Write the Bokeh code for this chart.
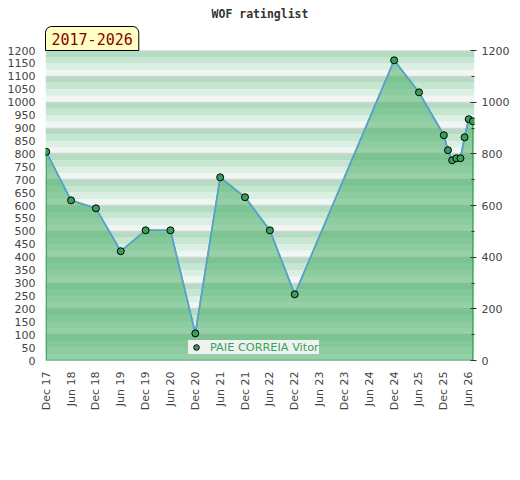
from bokeh.plotting import figure
from bokeh.models import (Range1d, LinearAxis, SingleIntervalTicker, FixedTicker,
                          Title, Legend, LegendItem)
from bokeh.embed import file_html
from bokeh.resources import INLINE

# ---- data ----
title_text = "WOF ratinglist"
period_text = "2017-2026"
player = "PAIE CORREIA Vitor"
dates = ["2017-12", "2018-06", "2018-12", "2019-06", "2019-12", "2020-06", "2020-12",
         "2021-06", "2021-12", "2022-06", "2022-12", "2024-12", "2025-06", "2025-12",
         "2026-01", "2026-02", "2026-03", "2026-04", "2026-05", "2026-06", "2026-07"]
ratings = [808, 620, 589, 423, 504, 504, 105, 709, 632, 504, 256, 1162, 1038, 872,
           814, 775, 783, 783, 864, 934, 926]
tick_labels = ["Dec 17", "Jun 18", "Dec 18", "Jun 19", "Dec 19", "Jun 20", "Dec 20",
               "Jun 21", "Dec 21", "Jun 22", "Dec 22", "Jun 23", "Dec 23", "Jun 24",
               "Dec 24", "Jun 25", "Dec 25", "Jun 26"]

MONTHS = {"Jan": 1, "Feb": 2, "Mar": 3, "Apr": 4, "May": 5, "Jun": 6, "Jul": 7,
          "Aug": 8, "Sep": 9, "Oct": 10, "Nov": 11, "Dec": 12}


def month_index(year, month):
    return (year - 2017) * 12 + month - 12


xs = [month_index(int(d[:4]), int(d[5:])) for d in dates]
tick_pos = [month_index(2000 + int(t[4:]), MONTHS[t[:3]]) for t in tick_labels]

FONT = "DejaVu Sans"

p = figure(frame_width=429, frame_height=310, width=505, height=452,
           output_backend="svg", toolbar_location=None,
           x_range=Range1d(-0.17, 103.4), y_range=Range1d(0, 1200),
           min_border_left=45, min_border_right=38, min_border_top=0, min_border_bottom=0,
           y_axis_location=None, x_axis_location=None)
p.outline_line_color = None
p.xgrid.visible = False
p.ygrid.visible = False
p.background_fill_color = "white"

# main title (outermost) and period box (nearest to frame)
p.title.text = title_text
p.title.align = "center"
p.title.text_font = "DejaVu Sans Mono"
p.title.text_font_style = "bold"
p.title.text_font_size = "11.5px"
p.title.text_color = "#333333"
p.title.standoff = 8

p.add_layout(Title(text=period_text, align="left", text_font="DejaVu Sans Mono",
                   text_font_style="normal", text_font_size="15px", text_color="#8b0000",
                   background_fill_color="#ffffc4", border_line_color="black",
                   border_line_width=1, padding=6, border_radius=(6, 6, 0, 0),
                   standoff=0, offset=0), "above")

# background stripes (decoration)
stripe_cols = ["#f0f7f2", "#dcefe3", "#c7e6d1", "#b3dcc3"]
sy, sc = [], []
for k in range(12):
    for j in range(4):
        sy.append(k * 100 + j * 25 + 12.5)
        sc.append(stripe_cols[j])
p.hbar(y=sy, height=25, left=-10, right=120, fill_color=sc, line_color=None)
p.hspan(y=list(range(0, 1201, 100)), line_color="#d2d2d2", line_width=1.5)

# area
area_x = [xs[0]] + xs + [xs[-1]]
area_y = [0] + ratings + [0]
p.patch(area_x, area_y, fill_color="#4fb16b", fill_alpha=0.56,
        line_color="#44a865", line_width=1.5)
p.line(xs, ratings, line_color="#5aa0d8", line_width=1.6)
pts = p.scatter(xs, ratings, size=7, fill_color="#36a05a", line_color="black", line_width=1)

# axes
left = LinearAxis(ticker=SingleIntervalTicker(interval=50, num_minor_ticks=0))
left.axis_line_color = None
left.major_tick_line_color = None
left.major_tick_out = 0
left.major_tick_in = 0
left.minor_tick_line_color = None
left.major_label_standoff = 10
p.add_layout(left, "left")

right = LinearAxis(ticker=SingleIntervalTicker(interval=200, num_minor_ticks=2))
right.axis_line_color = None
right.major_tick_in = 4
right.major_tick_out = 2
right.minor_tick_in = 3
right.minor_tick_out = 0
right.major_tick_line_color = "#333333"
right.minor_tick_line_color = "#333333"
right.major_label_standoff = 5
p.add_layout(right, "right")

bottom = LinearAxis(ticker=FixedTicker(ticks=tick_pos))
bottom.major_label_overrides = {t: l for t, l in zip(tick_pos, tick_labels)}
bottom.major_label_orientation = 3.14159265 / 2
bottom.axis_line_color = None
bottom.major_tick_line_color = None
bottom.major_tick_out = 0
bottom.major_tick_in = 0
bottom.minor_tick_line_color = None
bottom.major_label_standoff = 11
p.add_layout(bottom, "below")

for ax in (left, right, bottom):
    ax.major_label_text_font = FONT
    ax.major_label_text_font_size = "11px"
    ax.major_label_text_color = "#444444"

legend = Legend(items=[LegendItem(label=player, renderers=[pts])], location=(143, 6),
                orientation="horizontal", background_fill_color="#f1f1f1",
                background_fill_alpha=1, border_line_color=None, padding=3,
                glyph_width=16, glyph_height=14, label_standoff=6, margin=0,
                label_text_font=FONT, label_text_font_size="11.3px",
                label_text_color="#33a558")
p.add_layout(legend, "center")

open("out.html", "w").write(file_html(p, INLINE))
